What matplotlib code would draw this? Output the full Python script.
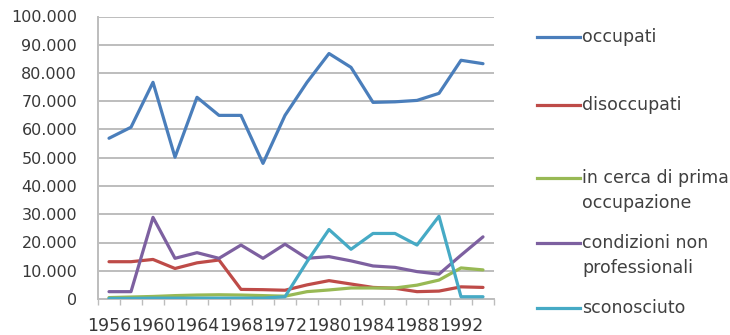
import matplotlib
matplotlib.use("Agg")
import matplotlib.pyplot as plt
from matplotlib.ticker import FuncFormatter, FixedLocator
from matplotlib.lines import Line2D

# Survey years (every second one is labelled on the axis)
anni = ["1956", "1958", "1960", "1962", "1964", "1966", "1968", "1970", "1972",
        "1976", "1980", "1982", "1984", "1986", "1988", "1990", "1992", "1994"]

occupati = [56900, 60800, 76700, 50200, 71400, 65000, 65000, 48000, 65000,
            76700, 86900, 82000, 69600, 69800, 70300, 72800, 84500, 83300]
disoccupati = [13200, 13200, 14000, 10800, 12800, 13800, 3400, 3300, 3100,
               5000, 6500, 5300, 4100, 3800, 2600, 2800, 4300, 4100]
in_cerca = [500, 700, 900, 1200, 1400, 1500, 1400, 1200, 1000,
            2600, 3200, 3900, 3900, 3900, 4900, 6700, 11000, 10300]
condizioni = [2600, 2600, 28900, 14400, 16400, 14400, 19100, 14400, 19400,
              14400, 15000, 13500, 11700, 11200, 9700, 8800, 15500, 22000]
sconosciuto = [200, 200, 300, 300, 300, 300, 300, 300, 800,
               13200, 24600, 17600, 23200, 23200, 19100, 29300, 800, 800]

serie = [
    ("occupati", occupati, "#4a7ebb"),
    ("disoccupati", disoccupati, "#be4b48"),
    ("in cerca di prima\noccupazione", in_cerca, "#98b954"),
    ("condizioni non\nprofessionali", condizioni, "#7d60a0"),
    ("sconosciuto", sconosciuto, "#46aac5"),
]

W, H = 730, 335
FS = 12.5
fig = plt.figure(figsize=(W / 100, H / 100), dpi=100)
ax = fig.add_axes([98 / W, 1 - 299 / H, (494 - 98) / W, (299 - 16.5) / H])

x = list(range(len(anni)))
for nome, valori, colore in serie:
    ax.plot(x, valori, color=colore, lw=2.3, solid_joinstyle="round",
            solid_capstyle="round", zorder=3)

ax.set_xlim(-0.5, len(anni) - 0.5)
ax.set_ylim(0, 100000)
ax.set_yticks(range(0, 100001, 10000))
ax.yaxis.set_major_formatter(
    FuncFormatter(lambda v, p: f"{int(v):,}".replace(",", ".")))
ax.grid(axis="y", color="#bdbdbd", lw=1.4, zorder=0)
ax.set_axisbelow(True)

ax.set_xticks(x[::2])
ax.set_xticklabels(anni[::2])
ax.xaxis.set_minor_locator(FixedLocator([i - 0.5 for i in range(len(anni) + 1)]))
ax.tick_params(axis="x", which="major", length=0, pad=13,
               labelsize=FS, labelcolor="#383838")
ax.tick_params(axis="x", which="minor", length=4, color="#bdbdbd", width=1)
ax.tick_params(axis="y", length=0, pad=15, labelsize=11.5, labelcolor="#383838")

for s in ("top", "right"):
    ax.spines[s].set_visible(False)
for s in ("left", "bottom"):
    ax.spines[s].set_color("#bdbdbd")
    ax.spines[s].set_linewidth(1.4)

# Legend on the right, handle aligned with the first text line
legend_y = [37, 105, 178, 243, 308]
for (nome, valori, colore), yy in zip(serie, legend_y):
    yf = 1 - yy / H
    fig.add_artist(Line2D([537 / W, 580 / W], [yf, yf], color=colore, lw=2.3,
                          transform=fig.transFigure))
    fig.text(582 / W, yf + 9 / H, nome, fontsize=FS, color="#404040",
             va="top", ha="left", linespacing=1.5,
             transform=fig.transFigure)

fig.savefig("out.png", dpi=100)
